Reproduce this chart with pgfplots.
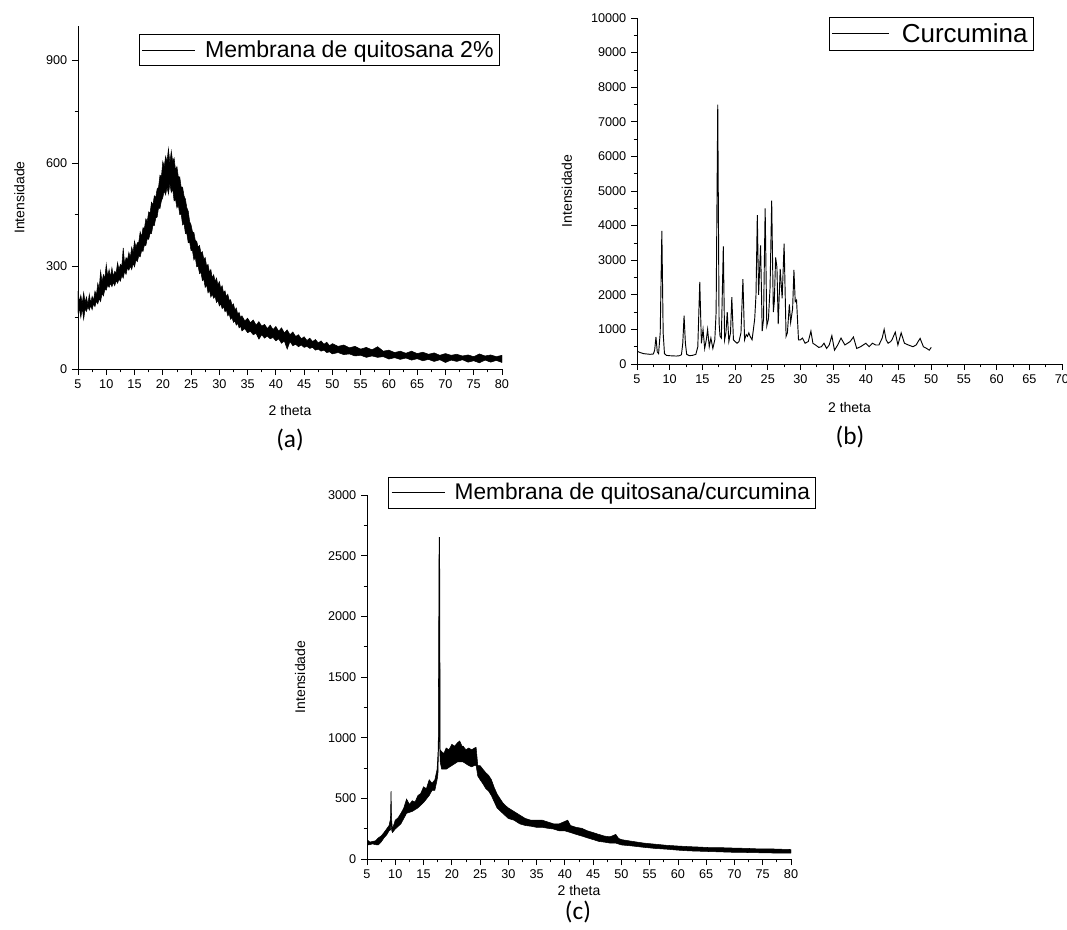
\documentclass[border=0pt]{standalone}
\usepackage{pgfplots}
\pgfplotsset{compat=1.18}
\usepackage{fontspec}
\setmainfont{Liberation Sans}
\newfontfamily\capfont{Carlito}

% 1 px of the reference = 0.75pt
\pgfplotsset{
  xrd/.style={
    scale only axis,
    axis x line=bottom, axis y line=left,
    axis line style={-, line width=0.7pt},
    tick align=outside,
    major tick length=4.5pt, minor tick length=2.5pt,
    every tick/.style={black, line width=0.6pt},
    minor x tick num=1, minor y tick num=1,
    xtick={5,10,...,80},
    tick label style={font=\fontsize{9.5}{11}\selectfont},
    /pgf/number format/assume math mode=true,
    /pgf/number format/set thousands separator={},
    scaled y ticks=false,
    label style={font=\fontsize{10.5}{12}\selectfont},
    xlabel={2 theta}, ylabel={Intensidade},
    legend cell align=left,
    legend style={draw=black, line width=0.5pt, font=\fontsize{17.3}{20}\selectfont,
      inner xsep=2pt, inner ysep=2.5pt, anchor=north west, column sep=5pt},
    legend image code/.code={
      \draw[black, fill=none, line width=0.6pt] (0pt,0pt) -- (40pt,0pt);},
  },
}

\begin{document}
\begin{tikzpicture}
\path[use as bounding box] (0,0) rectangle (800.25pt,-696.75pt);

% ---------------- (a) ----------------
\begin{axis}[xrd,
  at={(58.5pt,-276.75pt)}, anchor=south west,
  width=318pt, height=257.25pt,
  xmin=5, xmax=80, ymin=0, ymax=1000,
  ytick={0,300,600,900},
  xlabel style={at={(axis description cs:0.5,-0.12)}, anchor=center},
  ylabel style={at={(axis description cs:-0.138,0.5)}, anchor=center},
  legend style={at={(axis description cs:0.143,0.976)}},
]
\addplot[fill=black, draw=black, line width=0.4pt] coordinates {
(5,227)(5.25,195)(5.5,215)(5.75,190)(6,223)(6.25,195)(6.5,210)(6.75,188)(7,218)(7.25,192)
(7.5,212)(7.75,200)(8,227)(8.25,215)(8.5,250)(8.75,235)(9,285)(9.25,255)(9.5,275)(9.75,265)
(10,305)(10.25,270)(10.5,290)(10.75,268)(11,295)(11.25,270)(11.5,285)(11.75,280)(12,310)(12.25,290)
(12.5,305)(12.75,300)(13,353)(13.25,305)(13.5,325)(13.75,318)(14,340)(14.25,325)(14.5,355)(14.75,340)
(15,373)(15.25,355)(15.5,368)(15.75,370)(16,400)(16.25,385)(16.5,412)(16.75,410)(17,438)(17.25,430)
(17.5,458)(17.75,455)(18,486)(18.25,478)(18.5,505)(18.75,500)(19,525)(19.25,530)(19.5,565)(19.75,560)
(20,605)(20.25,590)(20.5,620)(20.75,605)(21,642)(21.25,600)(21.5,635)(21.75,605)(22,615)(22.25,580)
(22.5,590)(22.75,560)(23,560)(23.25,530)(23.5,530)(23.75,505)(24,495)(24.25,470)(24.5,460)(24.75,430)
(25,420)(25.25,400)(25.5,398)(25.75,375)(26,372)(26.25,355)(26.5,360)(26.75,338)(27,342)(27.25,320)
(27.5,325)(27.75,300)(28,305)(28.25,282)(28.5,290)(28.75,265)(29,275)(29.25,255)(29.5,265)(29.75,245)
(30,255)(30.25,235)(30.5,243)(30.75,222)(31,228)(31.25,210)(31.5,218)(31.75,200)(32,202)(32.25,185)
(32.5,190)(32.75,172)(33,178)(33.25,160)(33.5,165)(33.75,150)(34,155)(34.5,140)(35,148)(35.5,135)
(36,143)(36.5,128)(37,138)(37.5,125)(38,130)(38.5,118)(39,128)(39.5,115)(40,124)(40.5,110)
(41,120)(41.5,105)(42,114)(42.5,100)(43,108)(43.5,95)(44,100)(44.5,88)(45,94)(45.5,83)
(46,90)(46.5,80)(47,86)(47.5,76)(48,82)(48.5,72)(49,78)(49.5,68)(50,74)(51,66)
(52,70)(53,62)(54,66)(55,58)(56,63)(57,56)(58,65)(59,52)(60,55)(61,48)
(62,52)(63,46)(64,52)(65,45)(66,49)(67,43)(68,47)(69,40)(70,45)(71,40)
(72,43)(73,38)(74,41)(75,36)(76,44)(77,38)(78,41)(79,36)(80,40)
(80,19)(79,25)(78,20)(77,26)(76,18)(75,24)(74,20)(73,27)(72,22)(71,26)
(70,19)(69,27)(68,22)(67,28)(66,24)(65,30)(64,26)(63,32)(62,28)(61,33)
(60,29)(59,36)(58,34)(57,38)(56,34)(55,40)(54,38)(53,44)(52,42)(51,48)
(50,44)(49.5,50)(49,48)(48.5,55)(48,52)(47.5,58)(47,55)(46.5,63)(46,60)(45.5,66)
(45,63)(44.5,70)(44,65)(43.5,72)(43,68)(42.5,80)(42,58)(41.5,82)(41,75)(40.5,88)
(40,82)(39.5,92)(39,88)(38.5,96)(38,90)(37.5,100)(37,87)(36.5,104)(36,100)(35.5,110)
(35,106)(34.5,118)(34,111)(33.75,125)(33.5,120)(33.25,133)(33,128)(32.75,140)(32.5,136)(32.25,150)
(32,145)(31.75,160)(31.5,155)(31.25,172)(31,167)(30.75,182)(30.5,176)(30.25,190)(30,184)(29.75,200)
(29.5,194)(29.25,212)(29,206)(28.75,218)(28.5,210)(28.25,230)(28,222)(27.75,245)(27.5,238)(27.25,262)
(27,258)(26.75,282)(26.5,278)(26.25,300)(26,298)(25.75,325)(25.5,318)(25.25,345)(25,345)(24.75,370)
(24.5,368)(24.25,395)(24,395)(23.75,425)(23.5,420)(23.25,452)(23,450)(22.75,478)(22.5,470)(22.25,495)
(22,490)(21.75,525)(21.5,515)(21.25,540)(21,510)(20.75,530)(20.5,508)(20.25,520)(20,500)(19.75,490)
(19.5,468)(19.25,470)(19,443)(18.75,440)(18.5,418)(18.25,418)(18,395)(17.75,395)(17.5,378)(17.25,380)
(17,360)(16.75,362)(16.5,343)(16.25,345)(16,327)(15.75,330)(15.5,313)(15.25,318)(15,298)(14.75,308)
(14.5,290)(14.25,300)(14,288)(13.75,295)(13.5,276)(13.25,285)(13,265)(12.75,272)(12.5,256)(12.25,262)
(12,250)(11.75,258)(11.5,243)(11.25,252)(11,240)(10.75,250)(10.5,238)(10.25,245)(10,230)(9.75,232)
(9.5,213)(9.25,220)(9,197)(8.75,205)(8.5,190)(8.25,198)(8,182)(7.75,190)(7.5,173)(7.25,185)
(7,172)(6.75,182)(6.5,168)(6.25,175)(6,145)(5.75,178)(5.5,150)(5.25,175)(5,165)
} -- cycle;
\addlegendentry{Membrana de quitosana 2\%}
\end{axis}

% ---------------- (b) ----------------
\begin{axis}[xrd,
  at={(477.75pt,-273pt)}, anchor=south west,
  width=318.75pt, height=259.5pt,
  xmin=5, xmax=70, ymin=0, ymax=10000,
  xtick={5,10,...,70},
  ytick={0,1000,...,10000},
  xlabel style={at={(axis description cs:0.5,-0.127)}, anchor=center},
  ylabel style={at={(axis description cs:-0.165,0.5)}, anchor=center},
  legend style={at={(axis description cs:0.451,1.003)}, font=\fontsize{19.5}{22}\selectfont,
    column sep=7pt},
  legend image code/.code={
    \draw[black, line width=0.6pt] (0pt,0pt) -- (43pt,0pt);},
]
\addplot[black, line width=0.7pt] coordinates {
(5,370)(5.5,330)(6,300)(6.5,290)(7,280)(7.5,290)(7.7,400)(7.9,780)(8.1,350)(8.3,300)
(8.55,900)(8.8,3850)(9.0,900)(9.2,300)(9.5,250)(10,240)(10.5,235)(11,230)(11.5,240)(11.8,270)
(12.0,600)(12.2,1400)(12.4,600)(12.6,280)(13,240)(13.5,250)(14,280)(14.3,500)(14.6,2370)(14.85,600)
(15.1,1000)(15.35,450)(15.6,700)(15.8,1000)(16.05,500)(16.3,750)(16.6,450)(16.9,700)(17.1,1500)(17.35,7500)
(17.55,1200)(17.7,800)(17.9,750)(18.2,3400)(18.4,700)(18.6,900)(18.8,1500)(19.05,650)(19.3,900)(19.5,1930)
(19.75,700)(20.0,650)(20.3,600)(20.6,650)(20.9,900)(21.2,2450)(21.45,700)(21.7,850)(21.9,800)(22.1,900)
(22.3,800)(22.6,700)(22.8,1000)(23.0,1300)(23.2,2000)(23.4,4300)(23.6,2000)(23.9,3430)(24.15,950)(24.35,1300)
(24.6,4500)(24.85,1100)(25.1,1300)(25.35,2200)(25.6,4720)(25.85,1500)(26.0,1800)(26.2,3080)(26.4,2800)(26.6,1150)
(26.9,2750)(27.2,1900)(27.5,3480)(27.8,800)(28.0,900)(28.3,1720)(28.5,1200)(28.8,1600)(29.0,2720)(29.2,1800)
(29.4,1850)(29.7,700)(30.0,700)(30.3,750)(30.7,600)(31.2,650)(31.6,950)(31.9,600)(32.3,550)(32.8,480)
(33.2,500)(33.6,600)(34.0,450)(34.4,550)(34.8,820)(35.2,400)(35.7,550)(36.2,750)(36.8,550)(37.2,600)
(37.6,650)(38.1,780)(38.6,450)(39.2,500)(39.6,550)(40.0,600)(40.5,500)(41.0,600)(41.5,550)(42.0,550)
(42.5,750)(42.8,1000)(43.1,700)(43.4,600)(43.8,650)(44.0,700)(44.5,920)(44.9,550)(45.4,900)(45.9,600)
(46.5,550)(47.2,500)(47.7,550)(48.0,650)(48.3,740)(48.8,500)(49.3,450)(49.7,400)(50,480)
};
\addlegendentry{Curcumina}
\end{axis}

% ---------------- (c) ----------------
\begin{axis}[xrd,
  at={(275.25pt,-644.25pt)}, anchor=south west,
  width=318pt, height=273pt,
  xmin=5, xmax=80, ymin=0, ymax=3000,
  ytick={0,500,...,3000},
  xlabel style={at={(axis description cs:0.5,-0.087)}, anchor=center},
  ylabel style={at={(axis description cs:-0.158,0.5)}, anchor=center},
  legend style={at={(axis description cs:0.05,1.049)}, font=\fontsize{17}{20}\selectfont},
]
\addplot[fill=black, draw=black, line width=0.4pt] coordinates {
(5,160)(5.5,140)(6,145)(6.5,150)(7,174)(7.5,190)(8,218)(8.5,250)(8.9,276)(9.15,330)
(9.25,560)(9.35,330)(9.5,247)(10,320)(10.5,340)(11,377)(11.5,420)(12,494)(12.5,450)(13,480)
(13.5,470)(14,523)(14.5,540)(15,595)(15.5,580)(16,653)(16.5,624)(17,653)(17.4,740)(17.6,915)
(17.75,2650)(17.85,2650)(17.95,900)(18.2,885)(18.6,870)(19,915)(19.5,900)(20,945)(20.5,930)(21,958)
(21.4,973)(21.8,930)(22,930)(22.5,900)(23,915)(23.5,900)(24,915)(24.3,920)(24.6,770)(25,770)
(25.5,740)(26,712)(26.5,690)(27,654)(27.5,590)(28,537)(28.5,500)(29,465)(29.5,440)(30,421)
(31,392)(32,363)(33,334)(34,320)(35,320)(36,320)(37,305)(38,290)(39,290)(40,310)
(40.5,320)(41,276)(42,261)(43,253)(44,232)(45,218)(46,203)(47,189)(48,183)(49,203)
(49.5,170)(50,160)(52,145)(54,131)(56,122)(58,113)(60,107)(62,102)(64,98)(66,93)
(68,93)(70,90)(72,88)(74,84)(76,84)(78,81)(80,78)
(80,49)(78,49)(76,50)(74,52)(72,54)(70,55)(68,58)(66,61)(64,64)(62,67)
(60,73)(58,81)(56,87)(54,96)(52,107)(50,116)(49,131)(48,131)(47,139)(46,145)
(45,160)(44,174)(43,189)(42,203)(41,218)(40,232)(39,232)(38,247)(37,253)(36,261)
(35,261)(34,270)(33,276)(32,290)(31,320)(30,334)(29,377)(28,421)(27,523)(26.5,560)
(26,581)(25.5,620)(25,654)(24.6,683)(24.3,770)(24,770)(23.5,760)(23,770)(22,800)(21,800)
(20,770)(19,740)(18.2,740)(17.95,800)(17.8,1000)(17.7,1000)(17.55,700)(17.4,653)(17,566)(16.5,566)
(16,523)(15,465)(14,421)(13,392)(12,377)(11,290)(10,247)(9.5,218)(9.35,240)(9.25,300)
(9.15,240)(8.9,232)(8.5,200)(8,174)(7.5,140)(7,116)(6.5,118)(6,125)(5.5,118)(5,116)
} -- cycle;
\addlegendentry{Membrana de quitosana/curcumina}
\end{axis}

% panel captions
\node[font=\capfont\fontsize{19}{22}\selectfont] at (217.5pt,-330pt) {(a)};
\node[font=\capfont\fontsize{19}{22}\selectfont] at (637.5pt,-327.75pt) {(b)};
\node[font=\capfont\fontsize{19}{22}\selectfont] at (433.5pt,-684pt) {(c)};
\end{tikzpicture}
\end{document}
